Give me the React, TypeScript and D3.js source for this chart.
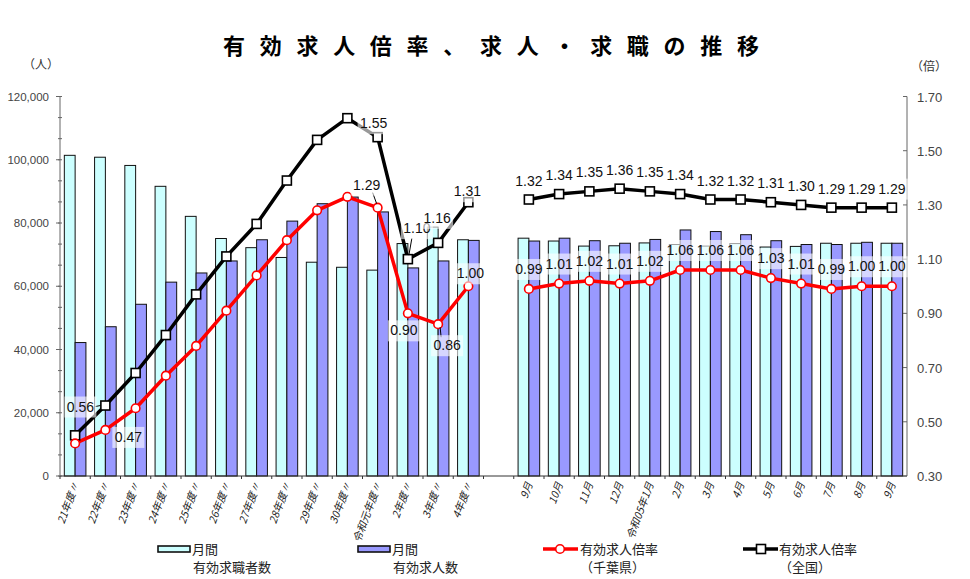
import React from 'react';
import * as d3 from 'd3';

// 年度（左側）
const annualLabels = ['21年度〃', '22年度〃', '23年度〃', '24年度〃', '25年度〃', '26年度〃', '27年度〃', '28年度〃', '29年度〃', '30年度〃', '令和元年度〃', '2年度〃', '3年度〃', '4年度〃'];
const annualSeekers = [101400, 100800, 98200, 91600, 82100, 75100, 72200, 69100, 67600, 66000, 65100, 73500, 78700, 74700];
const annualOpenings = [42200, 47200, 54300, 61300, 64200, 68000, 74700, 80600, 86100, 88200, 83500, 65800, 68000, 74500];
const annualChiba = [0.42, 0.47, 0.55, 0.67, 0.78, 0.91, 1.04, 1.17, 1.28, 1.33, 1.29, 0.90, 0.86, 1.00];
const annualNational = [0.45, 0.56, 0.68, 0.82, 0.97, 1.11, 1.23, 1.39, 1.54, 1.62, 1.55, 1.10, 1.16, 1.31];

// 月次（右側）
const monthLabels = ['9月', '10月', '11月', '12月', '令和05年1月', '2月', '3月', '4月', '5月', '6月', '7月', '8月', '9月'];
const monthSeekers = [75200, 74300, 72700, 72800, 73700, 73200, 72700, 73500, 72400, 72600, 73600, 73600, 73600];
const monthOpenings = [74300, 75200, 74400, 73600, 74800, 77800, 77300, 76300, 74400, 73200, 73200, 73900, 73600];
const monthChiba = [0.99, 1.01, 1.02, 1.01, 1.02, 1.06, 1.06, 1.06, 1.03, 1.01, 0.99, 1.00, 1.00];
const monthNational = [1.32, 1.34, 1.35, 1.36, 1.35, 1.34, 1.32, 1.32, 1.31, 1.30, 1.29, 1.29, 1.29];

const leftTicks = [0, 20000, 40000, 60000, 80000, 100000, 120000];
const rightTicks = [0.3, 0.5, 0.7, 0.9, 1.1, 1.3, 1.5, 1.7];

const title = '有効求人倍率、求人・求職の推移';

// annual labels that are shown, with their placement relative to the point
const nationalAnnualLabels = [
  { i: 1, dx: -25, dy: 1, lead: true },
  { i: 10, dx: -4, dy: -14 },
  { i: 11, dx: 9, dy: -31, lead: true },
  { i: 12, dx: -1, dy: -25 },
  { i: 13, dx: -1, dy: -11 },
];
const chibaAnnualLabels = [
  { i: 1, dx: 23, dy: 7 },
  { i: 10, dx: -11, dy: -23, lead: true },
  { i: 11, dx: -4, dy: 17 },
  { i: 12, dx: 9, dy: 21, lead: true },
  { i: 13, dx: 2, dy: -13 },
];

const NUM = '"Liberation Sans", Arial, sans-serif';
const JP = '"Noto Sans CJK JP", "Noto Sans", sans-serif';
const LIGHT = '#ccffff';
const DARK = '#9999ff';

export default function App() {
  const W = 970, H = 579;
  const left = 60, right = 907, top = 96.5, bottom = 476;

  const keys = [...annualLabels.map((_, i) => 'a' + i), 'gap', ...monthLabels.map((_, i) => 'm' + i)];
  const x = d3.scaleBand<string>().domain(keys).range([left, right]).padding(0);
  const yL = d3.scaleLinear().domain([0, 120000]).range([bottom, top]);
  const yR = d3.scaleLinear().domain([0.3, 1.7]).range([bottom, top]);
  const cx = (k: string) => (x(k) as number) + x.bandwidth() / 2;
  const bw = 10.8;

  const annualKeys = annualLabels.map((_, i) => 'a' + i);
  const monthKeys = monthLabels.map((_, i) => 'm' + i);

  const line = d3.line<[number, number]>().x(d => d[0]).y(d => d[1]);
  const pts = (ks: string[], vals: number[]) => ks.map((k, i) => [cx(k), yR(vals[i])] as [number, number]);

  const groups = [
    { ks: annualKeys, s: annualSeekers, o: annualOpenings, c: annualChiba, n: annualNational, names: annualLabels },
    { ks: monthKeys, s: monthSeekers, o: monthOpenings, c: monthChiba, n: monthNational, names: monthLabels },
  ];

  const minorTicks = d3.range(0, 120001, 20000 / 3);

  const label = (px: number, py: number, txt: string, key: string) => (
    <g key={key}>
      <rect x={px - 16} y={py - 10} width={32} height={21} fill="#fff" opacity={0.6} />
      <text x={px} y={py + 5} textAnchor="middle" fontFamily={NUM} fontSize={14} fill="#111">{txt}</text>
    </g>
  );

  const square = (px: number, py: number, key: string) => (
    <rect key={key} x={px - 4.5} y={py - 4.5} width={9} height={9} fill="#fff" stroke="#000" strokeWidth={1.6} />
  );
  const circle = (px: number, py: number, key: string) => (
    <circle key={key} cx={px} cy={py} r={4.3} fill="#fff" stroke="#ff0000" strokeWidth={1.6} />
  );

  const titleChars = Array.from(title);
  const tx = d3.scalePoint<number>().domain(d3.range(titleChars.length)).range([234, 748]);

  return (
    <svg width={W} height={H} style={{ position: 'absolute', left: 0, top: 0, background: '#fff' }}>
      {/* title */}
      {titleChars.map((ch, i) => (
        <text key={'t' + i} x={tx(i)} y={54} textAnchor="middle" fontFamily={JP} fontSize={22} fontWeight={700} fill="#000">{ch}</text>
      ))}
      <text x={23} y={69} fontFamily={JP} fontSize={12} fill="#333">（人）</text>
      <text x={911} y={71} fontFamily={JP} fontSize={12} fill="#333">（倍）</text>

      {/* bars */}
      {groups.map((g, gi) => g.ks.map((k, i) => (
        <g key={'b' + gi + '-' + i}>
          <rect x={cx(k) - bw} y={yL(g.s[i])} width={bw} height={bottom - yL(g.s[i])} fill={LIGHT} stroke="#111" strokeWidth={1} />
          <rect x={cx(k)} y={yL(g.o[i])} width={bw} height={bottom - yL(g.o[i])} fill={DARK} stroke="#111" strokeWidth={1} />
        </g>
      )))}

      {/* axes */}
      <line x1={left} x2={left} y1={top} y2={bottom} stroke="#666" strokeWidth={1} />
      <line x1={right} x2={right} y1={top} y2={bottom} stroke="#666" strokeWidth={1} />
      <line x1={left} x2={right} y1={bottom} y2={bottom} stroke="#333" strokeWidth={1} />
      {minorTicks.map((v, i) => (
        <line key={'mt' + i} x1={left - 2} x2={left + 2} y1={yL(v)} y2={yL(v)} stroke="#666" />
      ))}
      {leftTicks.map(v => (
        <g key={'lt' + v}>
          <line x1={left - 4} x2={left} y1={yL(v)} y2={yL(v)} stroke="#666" />
          <text x={49} y={yL(v) + 4} textAnchor="end" fontFamily={NUM} fontSize={11.5} fill="#444">{d3.format(',')(v)}</text>
        </g>
      ))}
      {rightTicks.map(v => (
        <g key={'rt' + v}>
          <line x1={right - 4} x2={right} y1={yR(v)} y2={yR(v)} stroke="#666" />
          <text x={917} y={yR(v) + 5} fontFamily={NUM} fontSize={13} fill="#444">{v.toFixed(2)}</text>
        </g>
      ))}
      {keys.map(k => (
        <line key={'xt' + k} x1={x(k) as number} x2={x(k) as number} y1={bottom} y2={bottom + 3} stroke="#333" />
      ))}

      {/* x labels */}
      {groups.map((g, gi) => g.ks.map((k, i) => (
        <text key={'xl' + gi + '-' + i} transform={`translate(${cx(k) + 4},${bottom + 8}) rotate(-70)`} textAnchor="end"
          fontFamily={JP} fontSize={10.5} fontStyle="italic" fill="#222">{g.names[i]}</text>
      )))}

      {/* lines */}
      {groups.map((g, gi) => (
        <g key={'ln' + gi}>
          <path d={line(pts(g.ks, g.n)) as string} fill="none" stroke="#000" strokeWidth={3.5} strokeLinejoin="round" />
          <path d={line(pts(g.ks, g.c)) as string} fill="none" stroke="#ff0000" strokeWidth={3.5} strokeLinejoin="round" />
          {pts(g.ks, g.n).map((p, i) => square(p[0], p[1], 'sq' + gi + i))}
          {pts(g.ks, g.c).map((p, i) => circle(p[0], p[1], 'ci' + gi + i))}
        </g>
      ))}

      {/* annual labels */}
      {nationalAnnualLabels.map(l => {
        const px = cx(annualKeys[l.i]), py = yR(annualNational[l.i]);
        return (
          <g key={'na' + l.i}>
            {l.lead && <line x1={px + l.dx + (l.dx < 0 ? 15 : -5)} y1={py + l.dy + (l.dx < 0 ? 0 : 10)} x2={px + (l.dx < 0 ? -5 : 1)} y2={py + (l.dx < 0 ? 0 : -4)} stroke="#000" strokeWidth={1} />}
            {label(px + l.dx, py + l.dy, annualNational[l.i].toFixed(2), 'nal' + l.i)}
          </g>
        );
      })}
      {chibaAnnualLabels.map(l => {
        const px = cx(annualKeys[l.i]), py = yR(annualChiba[l.i]);
        return (
          <g key={'ca' + l.i}>
            {l.lead && <line x1={px + l.dx + (l.dx < 0 ? 6 : -6)} y1={py + l.dy + (l.dy < 0 ? 8 : -8)} x2={px + (l.dx < 0 ? -1 : 2)} y2={py + (l.dy < 0 ? -4 : 3)} stroke="#000" strokeWidth={1} />}
            {label(px + l.dx, py + l.dy, annualChiba[l.i].toFixed(2), 'cal' + l.i)}
          </g>
        );
      })}

      {/* monthly labels */}
      {monthKeys.map((k, i) => label(cx(k), yR(monthNational[i]) - 19, monthNational[i].toFixed(2), 'mn' + i))}
      {monthKeys.map((k, i) => label(cx(k), yR(monthChiba[i]) - 20, monthChiba[i].toFixed(2), 'mc' + i))}

      {/* legend */}
      <g fontFamily={JP} fontSize={13} fill="#222">
        <rect x={158} y={546} width={32} height={6} fill={LIGHT} stroke="#111" strokeWidth={1.6} />
        <text x={192} y={554}>月間</text>
        <text x={193} y={572}>有効求職者数</text>
        <rect x={358} y={546} width={32} height={6} fill={DARK} stroke="#111" strokeWidth={1.6} />
        <text x={392} y={554}>月間</text>
        <text x={393} y={572}>有効求人数</text>
        <line x1={543} x2={578} y1={549} y2={549} stroke="#ff0000" strokeWidth={3.5} />
        {circle(560, 549, 'lc')}
        <text x={580} y={554}>有効求人倍率</text>
        <text x={580} y={572}>（千葉県）</text>
        <line x1={743} x2={778} y1={549} y2={549} stroke="#000" strokeWidth={3.5} />
        {square(761, 549, 'ls')}
        <text x={779} y={554}>有効求人倍率</text>
        <text x={779} y={572}>（全国）</text>
      </g>
    </svg>
  );
}
